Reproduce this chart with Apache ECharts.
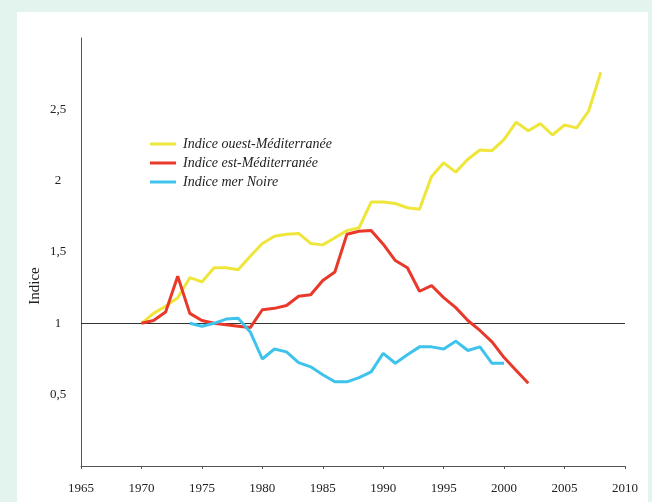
<!DOCTYPE html>
<html><head><meta charset="utf-8">
<script src="https://cdn.jsdelivr.net/npm/echarts@6/dist/echarts.min.js"></script>
<style>html,body{margin:0;padding:0;background:#e3f3ee;}#wrap{position:absolute;left:17px;top:12px;width:631px;height:490px;background:#fff;}#c{position:absolute;left:0;top:0;width:652px;height:502px;}</style>
</head><body><div id="wrap"></div><div id="c"></div>
<script>
const yearsOuest = [1970,1971,1972,1973,1974,1975,1976,1977,1978,1979,1980,1981,1982,1983,1984,1985,1986,1987,1988,1989,1990,1991,1992,1993,1994,1995,1996,1997,1998,1999,2000,2001,2002,2003,2004,2005,2006,2007,2008];
const valuesOuest = [1.00,1.07,1.12,1.18,1.32,1.29,1.39,1.39,1.375,1.47,1.56,1.61,1.625,1.63,1.56,1.55,1.60,1.65,1.67,1.85,1.85,1.84,1.81,1.80,2.03,2.125,2.06,2.15,2.215,2.21,2.29,2.41,2.35,2.40,2.32,2.39,2.37,2.49,2.76];
const yearsEst = [1970,1971,1972,1973,1974,1975,1976,1977,1978,1979,1980,1981,1982,1983,1984,1985,1986,1987,1988,1989,1990,1991,1992,1993,1994,1995,1996,1997,1998,1999,2000,2001,2002];
const valuesEst = [1.00,1.02,1.08,1.33,1.07,1.02,1.00,0.99,0.98,0.97,1.095,1.105,1.125,1.19,1.20,1.30,1.36,1.625,1.645,1.65,1.555,1.44,1.39,1.225,1.265,1.18,1.11,1.02,0.95,0.87,0.76,0.67,0.58];
const yearsNoire = [1974,1975,1976,1977,1978,1979,1980,1981,1982,1983,1984,1985,1986,1987,1988,1989,1990,1991,1992,1993,1994,1995,1996,1997,1998,1999,2000];
const valuesNoire = [1.00,0.98,1.00,1.03,1.035,0.94,0.75,0.82,0.80,0.725,0.695,0.64,0.59,0.59,0.62,0.66,0.79,0.72,0.78,0.835,0.835,0.82,0.875,0.81,0.835,0.72,0.72];
const names = ['Indice ouest-Méditerranée','Indice est-Méditerranée','Indice mer Noire'];
const colors = ['#efe63c','#e8392b','#3fc3ec'];
const yTickValues = [0.5,1,1.5,2,2.5];

const pair = (xs, vs) => xs.map((x,i)=>[x, vs[i]]);
const FONT = '"Liberation Serif", "DejaVu Serif", serif';
const chart = echarts.init(document.getElementById('c'), null, {renderer:'canvas'});
function mk(name, data, color, extra){
  return Object.assign({name, type:'line', data, symbol:'none', smooth:false,
    lineStyle:{color, width:3}, itemStyle:{color}, z:3}, extra||{});
}
chart.setOption({
  backgroundColor:'transparent',
  animation:false,
  grid:{left:81, right:27, top:38, bottom:36},
  legend:{orient:'vertical', left:145, top:132, itemWidth:26, itemHeight:3, itemGap:5, icon:'rect',
    data:names, textStyle:{fontFamily:FONT, fontStyle:'italic', fontSize:14, color:'#222', padding:[0,0,0,2]}},
  xAxis:{type:'value', min:1965, max:2010, interval:5,
    axisLine:{show:true, lineStyle:{color:'#555', width:1}},
    axisTick:{show:true, length:3, lineStyle:{color:'#555'}},
    splitLine:{show:false},
    axisLabel:{margin:16, fontFamily:FONT, fontSize:13, color:'#222', formatter:v=>String(v)}},
  yAxis:{type:'value', min:0, max:3, interval:0.5,
    axisLine:{show:true, lineStyle:{color:'#555', width:1}},
    axisTick:{show:false}, splitLine:{show:false},
    axisLabel:{margin:23, align:'center', fontFamily:FONT, fontSize:13, color:'#222',
      formatter:v=> yTickValues.includes(v) ? String(v).replace('.',',') : ''}},
  graphic:[{type:'text', x:35, y:286, rotation:Math.PI/2,
    style:{text:'Indice', font:'15px "Liberation Serif", serif', fill:'#222', align:'center', verticalAlign:'middle'}}],
  series:[
    mk(names[0], pair(yearsOuest, valuesOuest), colors[0], {
      markLine:{silent:true, symbol:'none', label:{show:false}, lineStyle:{color:'#333', width:1, type:'solid'}, data:[{yAxis:1}], z:1}}),
    mk(names[1], pair(yearsEst, valuesEst), colors[1]),
    mk(names[2], pair(yearsNoire, valuesNoire), colors[2])
  ]
});
</script></body></html>
